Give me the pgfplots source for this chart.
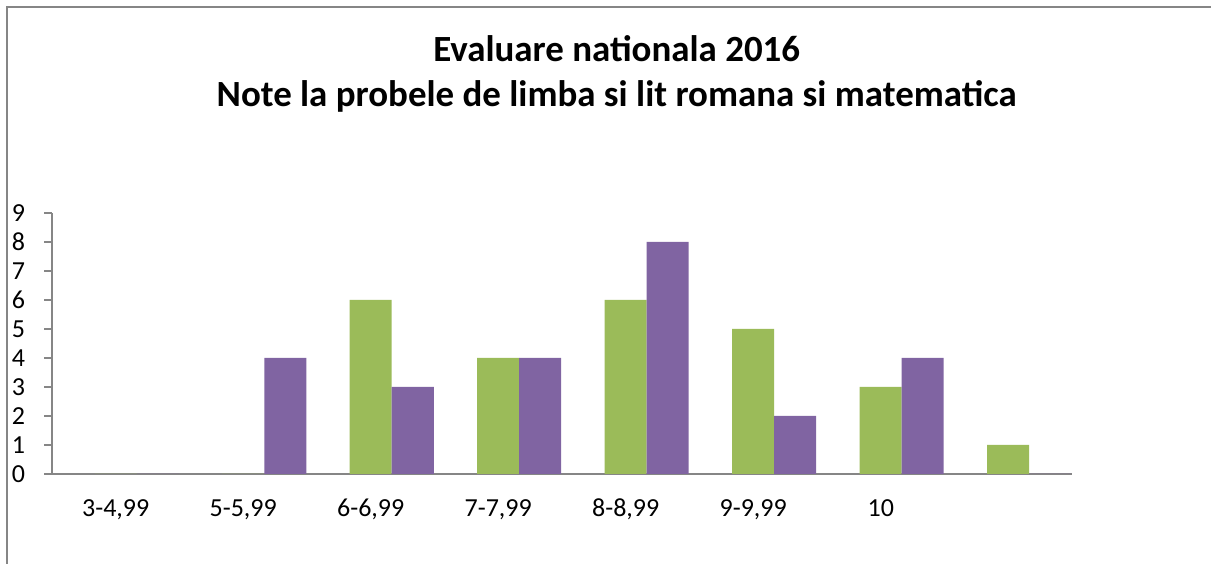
\documentclass[border=0pt]{standalone}
\usepackage{pgfplots}
\pgfplotsset{compat=1.18}
\usepackage{fontspec}
\setmainfont{Carlito}
\definecolor{grn}{HTML}{9BBB59}
\definecolor{prp}{HTML}{8064A2}
\definecolor{axgray}{HTML}{868686}
\begin{document}
\begin{tikzpicture}
\path[use as bounding box] (0,0) rectangle (908.25pt,423pt);
\draw[axgray, line width=1pt] (5.25pt,0) -- (5.25pt,417.75pt) -- (908.25pt,417.75pt);
\node[anchor=base, inner sep=0pt, font=\fontsize{27.7}{32}\selectfont\bfseries] at (462.5pt,376.5pt) {Evaluare nationala 2016};
\node[anchor=base, inner sep=0pt, font=\fontsize{27.7}{32}\selectfont\bfseries] at (462.5pt,342.75pt) {Note la probele de limba si lit romana si matematica};
\begin{axis}[
  at={(39pt,67.5pt)}, anchor=south west,
  scale only axis, width=765pt, height=195.75pt,
  xmin=0, xmax=8, ymin=0, ymax=9,
  axis y line=left, axis x line=bottom,
  axis line style={axgray, line width=1.2pt, -},
  ybar, bar width=31.5pt,
  ytick={0,1,...,9},
  xtick={0.5,1.5,...,6.5},
  xticklabels={{3-4,99},{5-5,99},{6-6,99},{7-7,99},{8-8,99},{9-9,99},{10}},
  tick align=outside,
  major tick length=6pt,
  ytick style={axgray, line width=1pt},
  xtick style={draw=none},
  /pgf/number format/assume math mode=true,
  tick label style={font=\fontsize{19.5}{23}\selectfont, text=black},
  yticklabel style={anchor=east, inner sep=0pt, xshift=-14pt},
  xticklabel style={anchor=base, inner sep=0pt, yshift=-26pt},
  clip=false,
]
\addplot[fill=grn, draw=none, bar shift=0pt] coordinates {(0.5,0) (1.5,0) (2.5,6) (3.5,4) (4.5,6) (5.5,5) (6.5,3) (7.5,1)};
\addplot[fill=prp, draw=none, bar shift=31.5pt] coordinates {(0.5,0) (1.5,4) (2.5,3) (3.5,4) (4.5,8) (5.5,2) (6.5,4) (7.5,0)};
\end{axis}
\end{tikzpicture}
\end{document}
